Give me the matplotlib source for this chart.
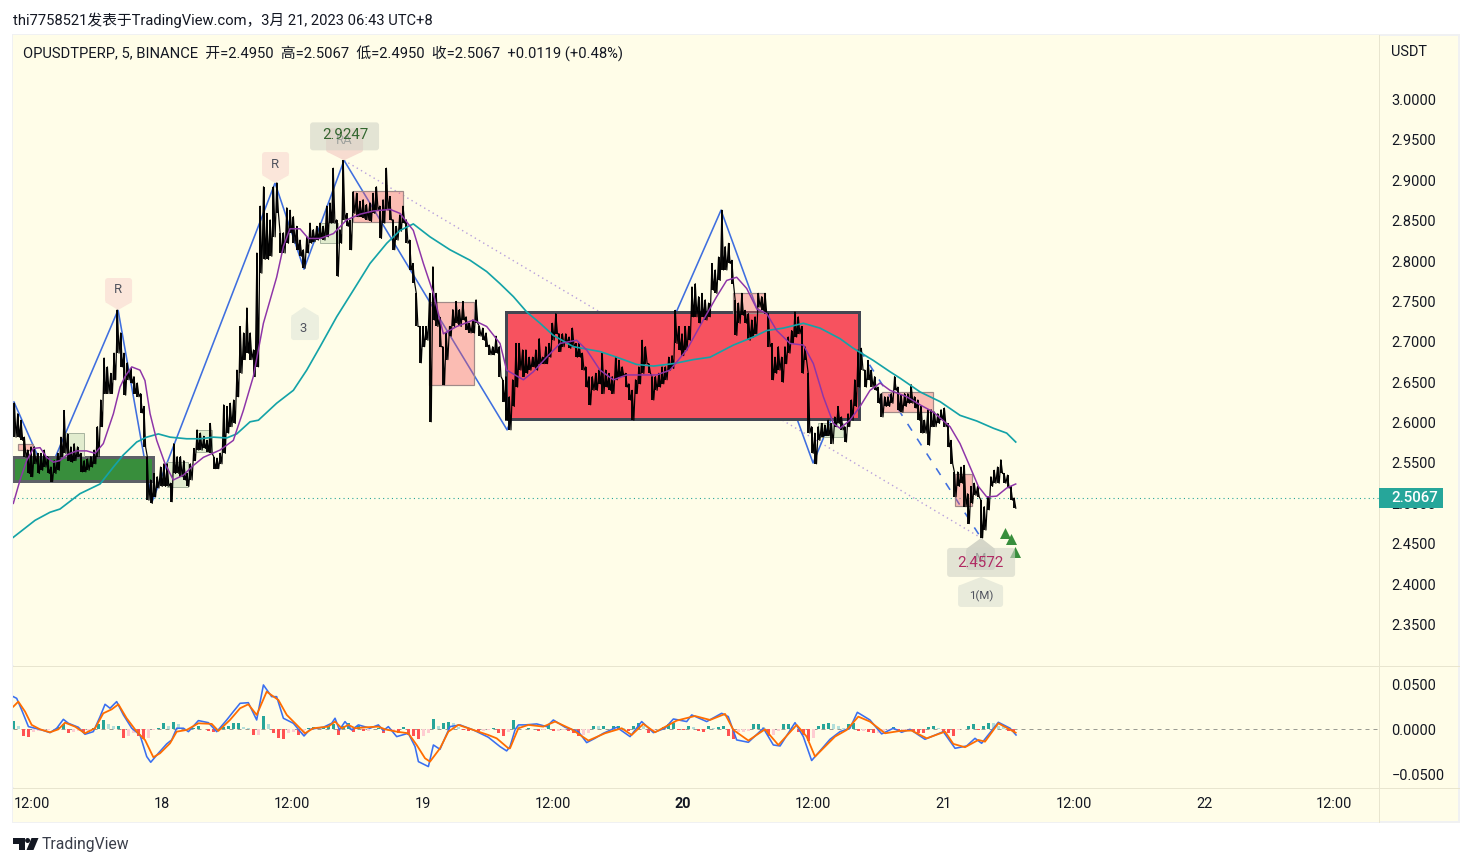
import numpy as np
import matplotlib
matplotlib.use("Agg")
import matplotlib.pyplot as plt
from matplotlib.patches import Rectangle, FancyBboxPatch, Polygon, Circle
from matplotlib.transforms import Affine2D, IdentityTransform

# ---------- data ----------
bar_start = -13.6
bar_step = 0.3060
bar_high = [
2.624,2.611,2.603,2.582,2.566,2.570,2.570,2.562,2.562,2.566,2.558,2.545,2.553,2.562,2.582,2.615,2.586,2.570,2.574,2.570,
2.562,2.553,2.555,2.558,2.566,2.595,2.628,2.680,2.669,2.661,2.686,2.740,2.711,2.686,2.674,2.667,2.657,2.649,2.636,2.620,
2.558,2.529,2.537,2.533,2.545,2.549,2.549,2.525,2.574,2.558,2.558,2.553,2.537,2.549,2.568,2.591,2.587,2.583,2.578,2.599,
2.558,2.556,2.562,2.622,2.620,2.624,2.628,2.665,2.719,2.711,2.742,2.711,2.690,2.810,2.868,2.892,2.859,2.851,2.892,2.897,
2.835,2.835,2.866,2.863,2.855,2.843,2.826,2.814,2.830,2.847,2.839,2.843,2.847,2.843,2.868,2.872,2.915,2.851,2.839,2.9247,
2.859,2.851,2.886,2.884,2.874,2.876,2.870,2.872,2.884,2.892,2.868,2.876,2.915,2.880,2.851,2.843,2.857,2.868,2.851,2.826,
2.797,2.760,2.719,2.719,2.719,2.760,2.793,2.760,2.731,2.694,2.711,2.719,2.740,2.750,2.740,2.750,2.731,2.723,2.727,2.752,
2.719,2.717,2.711,2.696,2.694,2.707,2.694,
2.653,2.657,2.632,2.653,2.698,2.698,2.690,2.690,2.681,2.681,2.690,2.704,2.681,2.694,2.698,2.723,2.735,2.710,2.710,2.710,
2.706,2.717,2.698,2.698,2.686,2.669,2.657,2.657,2.661,2.665,2.686,2.665,2.661,2.657,2.681,2.677,2.669,2.661,2.648,2.640,
2.653,2.669,2.702,2.694,2.673,2.657,2.657,2.661,2.669,2.669,2.681,2.683,2.739,2.719,2.710,2.719,2.719,2.768,2.772,2.756,
2.760,2.752,2.748,2.797,2.789,2.805,2.863,2.818,2.822,2.801,2.752,2.748,2.760,2.739,2.735,2.727,2.731,2.760,2.756,2.760,
2.735,2.698,2.681,2.694,2.681,2.694,2.706,2.714,2.737,2.731,2.719,2.694,2.661,2.595,2.587,2.595,2.599,2.597,2.603,2.599,
2.607,2.620,2.607,2.595,2.611,2.628,2.653,2.690,2.692,2.665,2.677,2.665,2.657,2.644,2.636,2.632,2.632,2.636,2.657,2.644,
2.634,2.636,2.636,2.647,2.632,2.628,2.620,2.603,2.616,2.616,2.613,2.611,2.616,2.618,2.599,2.578,2.539,2.539,2.545,2.547,
2.512,2.521,2.525,2.521,2.504,2.496,2.508,2.533,2.541,2.545,2.554,2.537,2.535,2.521,2.5067]
bar_low = [
2.582,2.582,2.578,2.557,2.537,2.533,2.549,2.537,2.541,2.545,2.537,2.527,2.537,2.541,2.558,2.562,2.553,2.551,2.553,2.558,
2.539,2.539,2.541,2.545,2.549,2.558,2.595,2.636,2.636,2.636,2.653,2.686,2.669,2.634,2.653,2.649,2.636,2.632,2.612,2.570,
2.504,2.500,2.508,2.519,2.521,2.521,2.521,2.502,2.537,2.537,2.533,2.529,2.521,2.529,2.553,2.566,2.566,2.568,2.564,2.562,
2.543,2.543,2.549,2.562,2.587,2.595,2.599,2.632,2.661,2.678,2.686,2.678,2.657,2.669,2.785,2.802,2.802,2.806,2.830,2.859,
2.810,2.810,2.822,2.835,2.822,2.814,2.806,2.791,2.810,2.822,2.824,2.826,2.828,2.826,2.830,2.847,2.847,2.781,2.822,2.851,
2.843,2.814,2.859,2.855,2.855,2.853,2.851,2.849,2.859,2.863,2.828,2.847,2.863,2.851,2.814,2.826,2.837,2.847,2.822,2.789,
2.773,2.719,2.674,2.694,2.702,2.601,2.727,2.719,2.694,2.647,2.678,2.707,2.719,2.723,2.719,2.727,2.715,2.711,2.711,2.723,
2.707,2.702,2.694,2.684,2.684,2.686,2.657,
2.626,2.603,2.591,2.620,2.644,2.665,2.657,2.661,2.665,2.669,2.665,2.673,2.673,2.673,2.681,2.702,2.710,2.688,2.694,2.698,
2.692,2.694,2.681,2.681,2.665,2.644,2.622,2.640,2.640,2.648,2.636,2.644,2.640,2.636,2.653,2.657,2.657,2.644,2.628,2.603,
2.636,2.648,2.661,2.673,2.661,2.628,2.640,2.644,2.648,2.653,2.665,2.667,2.698,2.690,2.683,2.690,2.702,2.731,2.731,2.723,
2.731,2.727,2.731,2.764,2.760,2.776,2.789,2.789,2.797,2.772,2.708,2.723,2.733,2.723,2.702,2.706,2.710,2.743,2.739,2.735,
2.694,2.653,2.661,2.665,2.650,2.673,2.686,2.698,2.706,2.710,2.661,2.677,2.587,2.562,2.549,2.578,2.582,2.584,2.584,2.574,
2.595,2.599,2.591,2.576,2.595,2.603,2.620,2.644,2.665,2.644,2.653,2.644,2.640,2.624,2.607,2.620,2.620,2.624,2.640,2.615,
2.613,2.620,2.624,2.624,2.618,2.603,2.587,2.587,2.572,2.595,2.595,2.599,2.603,2.595,2.570,2.549,2.508,2.521,2.525,2.496,
2.475,2.500,2.510,2.508,2.4572,2.467,2.492,2.521,2.525,2.525,2.537,2.525,2.519,2.504,2.494]

ema_fast_hours = [-13.70,-13.08,-12.47,-11.85,-11.24,-10.63,-10.01,-9.40,-8.78,-7.86,-6.94,-6.17,-5.41,-4.48,-3.87,-3.41,-2.79,-2.03,-1.57,-1.10,-0.49,0.28,1.04,1.97,2.89,3.81,5.34,6.57,7.49,8.41,9.34,10.56,11.18,11.79,12.71,13.48,14.56,15.79,17.01,18.24,19.47,21.01,21.93,23.15,24.08,25.0,25.92,27.15,28.68,29.91,31.14,31.75,33.29,34.21,35.44,36.67,38.20,39.12,40.35,41.58,42.81,44.04,45.57,46.80,48.34,49.87,51.10,52.02,52.94,53.87,54.79,55.71,56.63,57.86,59.09,60.01,60.93,61.85,62.46,63.38,64.31,65.23,66.15,67.07,68.61,69.84,71.07,72.60,73.52,74.45,75.21,75.98,76.90,77.82,78.65]
ema_fast = [2.500,2.529,2.553,2.568,2.569,2.557,2.551,2.553,2.560,2.565,2.565,2.562,2.574,2.611,2.644,2.657,2.669,2.665,2.652,2.611,2.578,2.549,2.529,2.535,2.547,2.557,2.566,2.578,2.615,2.657,2.723,2.780,2.818,2.840,2.840,2.828,2.828,2.834,2.851,2.858,2.862,2.864,2.859,2.838,2.797,2.760,2.710,2.719,2.727,2.719,2.698,2.665,2.653,2.663,2.681,2.698,2.702,2.690,2.665,2.653,2.659,2.659,2.659,2.665,2.690,2.727,2.756,2.776,2.780,2.766,2.741,2.735,2.714,2.698,2.696,2.673,2.632,2.599,2.593,2.603,2.620,2.640,2.649,2.640,2.632,2.622,2.613,2.595,2.574,2.545,2.521,2.508,2.509,2.519,2.524]

ema_slow_hours = [-13.70,-11.70,-10.32,-9.40,-7.56,-5.71,-4.48,-3.56,-2.33,-1.41,-0.34,0.74,2.27,3.50,4.73,5.96,6.88,8.11,8.88,10.56,12.10,13.33,14.56,16.09,17.63,19.16,20.70,21.93,23.15,24.69,26.53,28.38,29.91,31.14,32.37,33.60,34.83,36.05,37.90,40.35,41.89,43.73,45.27,47.11,48.95,50.49,52.64,54.48,55.71,57.24,59.09,60.62,62.46,63.69,65.53,67.07,68.0,69.84,71.68,73.52,75.06,76.60,77.82,78.65]
ema_slow = [2.458,2.479,2.489,2.493,2.512,2.524,2.545,2.560,2.576,2.582,2.586,2.582,2.580,2.580,2.582,2.581,2.586,2.601,2.603,2.624,2.640,2.665,2.694,2.731,2.764,2.797,2.822,2.838,2.846,2.830,2.814,2.801,2.787,2.772,2.756,2.737,2.723,2.708,2.694,2.688,2.681,2.672,2.670,2.673,2.678,2.681,2.696,2.706,2.714,2.717,2.723,2.717,2.704,2.692,2.677,2.663,2.655,2.638,2.626,2.609,2.602,2.593,2.587,2.576]

zigzag_hours = [-13.64,-10.6,-4.05,-0.92,10.41,13.08,16.77,31.79,36.0,43.1,51.5,59.98,64.3]
zigzag_price = [2.6255,2.533,2.7394,2.502,2.8966,2.79,2.9247,2.591,2.735,2.606,2.863,2.55,2.69]
dashed_hours = [64.3,75.46]
dashed_price = [2.69,2.4572]
dotted_hours = [16.77,75.46]
dotted_price = [2.9247,2.4572]

# zones: hour start, hour end, price low, price high
supply_zones = [(-13.27,-11.89,2.566,2.5735),(17.60,22.20,2.8484,2.8867),(24.60,28.75,2.6466,2.7493),
                (52.61,55.56,2.7357,2.7605),(66.34,71.03,2.6131,2.6379),(73.06,74.63,2.4968,2.5364)]
demand_zones = [(-9.12,-7.19,2.5586,2.5871),(0.46,2.40,2.5203,2.5512),(3.13,4.61,2.5636,2.5908),
                (14.56,16.22,2.8223,2.8471),(60.44,62.74,2.5822,2.5995)]
big_red_zone = (31.69,64.22,2.6044,2.7369)
big_green_zone = (-13.73,-0.83,2.5277,2.5574)

signal_hours = [77.67,78.22,78.59]
signal_price = [2.4633,2.4559,2.4398]
last_price = 2.5067

macd_hours = [-13.70,-13.39,-12.93,-12.31,-11.70,-11.09,-10.32,-9.70,-9.09,-8.63,-7.71,-7.10,-6.33,-5.71,-5.25,-4.79,-4.18,-3.56,-2.79,-2.03,-1.41,-1.04,-.34,.43,.89,1.35,1.97,2.43,3.35,4.27,5.04,5.96,6.57,7.19,7.95,8.72,9.34,10.10,10.56,11.18,12.10,13.08,13.63,14.86,15.63,15.94,16.34,16.86,17.47,18.09,19.16,19.93,20.39,20.85,21.62,22.69,23.31,23.62,24.54,25.0,25.61,26.53,27.45,28.68,30.06,31.14,31.75,
32.06,32.52,32.83,33.44,34.52,35.44,36.05,37.13,38.36,39.12,39.89,40.66,41.89,43.12,44.19,45.27,46.34,47.11,48.34,48.80,50.18,51.56,52.17,52.94,54.02,55.40,56.32,56.94,58.32,59.08,59.85,61.54,62.46,63.38,64.06,65.22,66.30,67.38,68.14,68.91,70.29,71.98,73.06,74.13,74.90,75.51,77.05,78.13,78.68]
macd_line = [.0365,.0346,.0217,.0032,.0014,-.0005,-.0035,.0014,.0113,.0069,.0025,-.0053,-.0024,.0143,.0280,.0236,.0310,.0162,.0014,-.0061,-.0301,-.0364,-.0264,-.0160,-.0116,.0014,.0014,-.0024,.0099,.0076,-.0024,.0106,.0199,.0291,.0298,.0106,.0495,.0365,.0365,.0125,.0069,-.0072,.0002,.0025,.0069,.0125,-.0005,.0088,-.0005,.0051,.0014,.0051,-.0012,.0032,-.0079,-.0042,-.0190,-.0357,-.0412,-.0172,-.0220,.0032,.0051,-.0005,-.0086,-.0190,-.0238,
-.0190,-.0005,.0051,.0051,.0062,.0032,.0106,.0025,-.0024,-.0146,-.0098,-.0042,.0025,-.0079,.0088,-.0035,.0014,.0117,.0088,.0162,.0088,.0180,.0143,-.0116,-.0142,.0014,-.0172,-.0183,.0076,-.0079,-.0345,-.0109,-.0024,.0014,.0191,.0106,-.0049,.0014,-.0031,.0002,-.0109,-.0024,-.0209,-.0183,-.0098,-.0153,.0080,.0014,-.0061]
signal_line_hours = [-13.70,-13.24,-12.62,-12.01,-11.24,-10.32,-9.55,-8.94,-8.02,-7.10,-6.17,-5.41,-4.64,-4.02,-3.26,-2.33,-1.57,-.80,-.18,.74,1.35,2.27,3.35,4.58,5.19,6.26,7.19,7.95,8.72,9.64,10.72,11.49,12.41,13.17,13.94,15.32,15.94,16.55,17.17,17.78,18.86,19.93,20.55,21.62,22.69,23.46,24.23,24.69,25.61,26.38,27.30,28.68,30.06,30.83,31.91,
32.06,32.83,33.75,35.13,36.21,37.74,39.28,40.81,42.35,43.27,44.34,45.42,47.42,49.10,50.49,51.87,52.64,54.02,55.55,56.78,58.47,59.39,60.16,62.0,63.08,64.15,65.22,66.61,67.99,69.07,70.45,72.14,72.90,73.98,75.21,75.82,77.05,78.65]
signal_line = [.0254,.0310,.0199,.0051,.0002,-.0031,.0002,.0076,.0032,-.0042,.0014,.0180,.0224,.0280,.0125,-.0024,-.0116,-.0308,-.0264,-.0153,-.0024,-.0005,.0069,.0062,-.0016,.0106,.0236,.0280,.0162,.0420,.0328,.0162,.0051,-.0042,.0014,.0032,.0088,.0014,.0051,.0014,.0025,.0032,.0002,-.0024,-.0042,-.0172,-.0320,-.0357,-.0209,-.0024,.0051,-.0005,-.0061,-.0098,-.0209,
-.0209,.0014,.0051,.0032,.0088,.0002,-.0123,-.0042,.0014,-.0061,.0062,-.0031,.0099,.0150,.0106,.0173,-.0005,-.0123,.0002,-.0172,.0051,-.0079,-.0301,-.0079,-.0005,.0143,.0088,-.0042,-.0016,-.0012,-.0098,-.0024,-.0160,-.0197,-.0116,-.0135,.0069,-.0035]
hist_start = -13.70
hist_step = 0.4607
macd_hist = [.0093,.0037,-.0074,-.0081,-.0030,-.0019,-.0011,-.0007,.0011,.0030,.0056,-.0037,-.0030,-.0015,-.0030,-.0019,.0019,.0056,.0104,.0056,.0037,.0044,-.0093,-.0067,-.0044,-.0074,-.0111,-.0093,-.0011,.0019,.0067,.0037,.0081,.0056,.0019,.0007,.0019,.0044,.0011,-.0019,-.0030,-.0011,.0030,.0044,.0067,.0074,.0030,.0019,-.0056,-.0056,.0155,.0056,-.0037,-.0093,-.0104,-.0037,-.0030,-.0056,-.0056,.0019,.0030,.0019,.0030,.0037,.0056,-.0056,.0037,.0067,-.0030,.0037,-.0019,-.0019,.0011,.0019,-.0037,-.0019,-.0019,-.0044,.0030,-.0056,-.0074,-.0111,-.0074,-.0044,.0118,.0044,.0067,.0081,.0074,.0030,-.0011,-.0019,-.0007,-.0019,-.0019,-.0011,.0019,-.0044,-.0067,-.0030,
.0100,.0037,.0011,.0019,.0011,-.0019,-.0011,.0056,-.0019,-.0019,-.0011,-.0019,-.0044,-.0067,-.0056,-.0037,.0044,.0037,.0044,.0011,.0044,.0044,.0019,-.0019,.0044,.0074,.0037,-.0037,-.0019,.0011,.0030,.0056,.0067,-.0007,-.0011,.0044,.0030,-.0019,-.0030,.0037,.0022,.0030,.0037,-.0074,-.0111,-.0030,-.0030,-.0019,.0056,.0056,.0030,-.0067,-.0056,-.0019,.0056,.0056,.0030,-.0030,-.0056,-.0130,-.0093,.0044,.0056,.0067,.0056,.0044,.0019,.0056,.0074,-.0019,-.0019,-.0030,-.0037,-.0037,-.0019,-.0019,.0030,-.0019,-.0011,-.0019,-.0030,-.0037,-.0044,.0030,.0037,.0022,-.0030,-.0044,-.0067,-.0011,.0011,.0044,.0056,-.0011,.0044,.0074,.0067,.0044,.0037,-.0019,-.0030]

time_ticks = [-12,0,12,24,36,48,60,72,84,96,108]
time_labels = ["12:00","18","12:00","19","12:00","20","12:00","21","12:00","22","12:00"]
price_ticks = [2.35,2.40,2.45,2.50,2.55,2.60,2.65,2.70,2.75,2.80,2.85,2.90,2.95,3.00]
macd_ticks = [-0.05,0.0,0.05]

# ---------- style ----------
W, H = 1472, 866
BG = "#fffde8"
GRID = "#e8e5cf"
FONT = ["Roboto", "Noto Sans CJK SC", "DejaVu Sans"]
TXT = "#131722"
plt.rcParams["font.family"] = FONT
PX = 0.72

fig = plt.figure(figsize=(W/100, H/100), dpi=100, facecolor="white")
def rect(x0, y0, x1, y1):
    return [x0/W, 1-y1/H, (x1-x0)/W, (y1-y0)/H]

fig.add_artist(Rectangle((13/W, 1-822/H), 1446/W, 787/H, transform=fig.transFigure,
                         fc=BG, ec="#f0f1f2", lw=2*PX, zorder=-5))

ax = fig.add_axes(rect(13, 35, 1379, 665), facecolor=BG)
am = fig.add_axes(rect(13, 666, 1379, 787), facecolor=BG)
at = fig.add_axes(rect(13, 788, 1379, 822), facecolor=BG)
xlim = (-13.73, 112.12)
for a in (ax, am, at):
    a.set_xlim(*xlim)
    for s in a.spines.values():
        s.set_visible(False)
    a.spines["right"].set_visible(True)
    a.spines["right"].set_color(GRID)
    a.spines["right"].set_linewidth(PX)
ax.set_ylim(2.2999, 3.0799)
am.set_ylim(-0.0639, 0.07056)
at.set_ylim(0, 1)

fig.add_artist(plt.Line2D([13/W, 1459/W], [1-665.5/H]*2, color=GRID, lw=PX))
fig.add_artist(plt.Line2D([13/W, 1459/W], [1-787.5/H]*2, color=GRID, lw=PX))

ax.set_xticks([])
am.set_xticks([])
ax.yaxis.tick_right()
am.yaxis.tick_right()
ax.set_yticks(price_ticks)
ax.set_yticklabels([f"{v:.4f}" for v in price_ticks])
am.set_yticks(macd_ticks)
am.set_yticklabels(["\u22120.0500", "0.0000", "0.0500"])
for a in (ax, am):
    a.tick_params(axis="y", length=0, pad=12.5*PX, labelsize=14.5*PX, labelcolor=TXT)
at.set_yticks([])
at.set_xticks(time_ticks)
at.set_xticklabels(time_labels)
at.tick_params(axis="x", length=0, labelsize=14.5*PX, labelcolor=TXT, direction="in")
at.xaxis.set_tick_params(pad=-25*PX)
for lab, txt in zip(at.get_xticklabels(), time_labels):
    if txt == "20":
        lab.set_fontweight("bold")

# ---------- price pane ----------
ax.axhline(last_price, color="#26a69a", lw=1.1*PX, ls=(0, (1, 3)), zorder=1)
ax.plot(dotted_hours, dotted_price, color="#b79fdc", lw=1.4*PX, ls=(0, (1, 2.5)), zorder=1.2)
ax.plot(zigzag_hours, zigzag_price, color="#3f6fdf", lw=1.6*PX, zorder=1.3)
ax.plot(dashed_hours, dashed_price, color="#3f6fdf", lw=1.6*PX, ls=(0, (5, 6)), zorder=1.3)

def zone(a, z, fc, ec, lw, zo=1.6):
    a.add_patch(Rectangle((z[0], z[2]), z[1]-z[0], z[3]-z[2], facecolor=fc, edgecolor=ec, lw=lw, zorder=zo))

for z in supply_zones:
    zone(ax, z, (0.969, 0.322, 0.373, 0.38), "#a08a88", 1.2*PX)
for z in demand_zones:
    zone(ax, z, (0.22, 0.557, 0.235, 0.15), "#a9b5a0", 1.0*PX)
zone(ax, big_red_zone, "#f7525f", "#434651", 3*PX, zo=1.5)
zone(ax, big_green_zone, "#388e3c", "#5d6066", 3*PX, zo=1.5)

bar_hours = bar_start + bar_step*np.arange(len(bar_high))
ax.vlines(bar_hours, bar_low, bar_high, color="black", lw=1.9*PX, zorder=3)
saw_x = np.column_stack([bar_hours, bar_hours+bar_step/2]).ravel()
saw_y = np.column_stack([bar_high, bar_low]).ravel()
ax.plot(saw_x, saw_y, color="black", lw=1.2*PX, zorder=3)

ax.plot(ema_slow_hours, ema_slow, color="#14a3a8", lw=1.7*PX, zorder=3.2)
ax.plot(ema_fast_hours, ema_fast, color="#8e35a8", lw=1.5*PX, zorder=3.3)
ax.scatter(signal_hours, signal_price, marker="^", s=(11*PX)**2, color="#388e3c", lw=0, zorder=3.4)

fig.canvas.draw()
def anchored(h, p):
    dx, dy = ax.transData.transform((h, p))
    return Affine2D().scale(1, -1).translate(dx, dy)

def balloon(h, p, box, tip, fc, label=None, lpos=None, color="#50535e", size=13, alpha=None, zo=4):
    tr = anchored(h, p)
    x0, y0, x1, y1 = box
    ax.add_patch(FancyBboxPatch((x0, y0), x1-x0, y1-y0, boxstyle="round,pad=0,rounding_size=3",
                                transform=tr, fc=fc, ec="none", alpha=alpha, zorder=zo, clip_on=False))
    if tip:
        ax.add_patch(Polygon(tip, closed=True, transform=tr, fc=fc, ec="none", alpha=alpha, zorder=zo, clip_on=False))
    if label:
        ax.text(lpos[0], lpos[1], label, transform=tr, ha="center", va="center",
                color=color, fontsize=size*PX, zorder=zo+0.1, clip_on=False)

PEACH = "#fbe6da"
PALE = "#ecefdf"
balloon(-4.05, 2.7394, (-13, -32, 14, -7), [(-13, -8), (14, -8), (0, 0)], PEACH, "R", (0, -21))
balloon(10.41, 2.8966, (-13, -31, 14, -7), [(-13, -8), (14, -8), (0, 0)], PEACH, "R", (0, -19))
balloon(16.77, 2.9247, (-18, -32, 19, -8), [(-18, -9), (19, -9), (0, 0)], "#f7dcd0", "RA", (0, -20))
balloon(16.77, 2.9247, (-34, -38, 35, -10), None, "#d3d5c8", "2.9247", (1, -25),
        color="#33662f", size=15, alpha=0.62, zo=4.3)
balloon(13.08, 2.7431, (-13, 8, 15, 33), [(-13, 9), (15, 9), (0, 0)], PALE, "3", (-1, 21))
balloon(75.46, 2.4572, (-15, 10, 14, 32), [(-15, 11), (14, 11), (0, 0)], "#d5d6c8", "M", (0, 21))
balloon(75.46, 2.4572, (-34, 10, 34, 39), None, "#d3d5c8", "2.4572", (-1, 25),
        color="#b02a63", size=15, alpha=0.62, zo=4.3)
balloon(75.46, 2.4572, (-23, 47, 22, 69), [(-23, 48), (22, 48), (0, 39)], "#e9ebdb", "1(M)", (0, 58), size=11.5)

# last-price tag drawn over the scale
ax.add_patch(Rectangle((xlim[1], last_price-0.0124), 5.9, 0.0248, fc="#26a69a", ec="none", zorder=10, clip_on=False))
ax.text(xlim[1]+1.1, last_price, f"{last_price:.4f}", color="white", fontsize=15*PX, va="center", ha="left",
        fontweight="medium", zorder=11, clip_on=False)

# ---------- MACD pane ----------
am.axhline(0, color="#9a9b92", lw=1*PX, ls=(0, (4, 4)), zorder=1)
hist_hours = hist_start + hist_step*np.arange(len(macd_hist))
hist = np.array(macd_hist)
prev = np.r_[hist[0], hist[:-1]]
bar_cols = np.where(hist >= 0, np.where(hist >= prev, "#26a69a", "#b2dfdb"),
                    np.where(hist < prev, "#ff5252", "#ffcdd2"))
am.bar(hist_hours, hist, width=hist_step*0.7, color=list(bar_cols), zorder=2)
am.plot(macd_hours, macd_line, color="#3a6ff0", lw=1.6*PX, zorder=3)
am.plot(signal_line_hours, signal_line, color="#ff6d00", lw=1.8*PX, zorder=3.1)

# ---------- header / footer text ----------
def ftext(x, y, s, **kw):
    fig.text(x/W, 1-y/H, s, va="center", ha=kw.pop("ha", "left"), color=kw.pop("color", TXT),
             fontsize=kw.pop("size", 14.8)*PX, **kw)

ftext(13, 20, "thi7758521发表于TradingView.com，3月 21, 2023 06:43 UTC+8")
ftext(23, 54, "OPUSDTPERP, 5, BINANCE  开=2.4950  高=2.5067  低=2.4950  收=2.5067  +0.0119 (+0.48%)")
ftext(1391, 51.5, "USDT", size=14.5)
ftext(42, 845, "TradingView", size=15.8, color="#3a3e4a")

# TradingView logo
disp = IdentityTransform()
def fpoly(pts):
    fig.add_artist(Polygon([(x, H-y) for x, y in pts], closed=True, transform=disp, fc="#131722", ec="none"))
fpoly([(13, 838), (25, 838), (25, 850), (19, 850), (19, 843.5), (13, 843.5)])
fpoly([(31.5, 838), (38.5, 838), (33.5, 850), (26.5, 850)])
fig.add_artist(Circle((27.6, H-840.5), 2.5, transform=disp, fc="#131722", ec="none"))

fig.savefig("out.png", dpi=100, facecolor="white")
